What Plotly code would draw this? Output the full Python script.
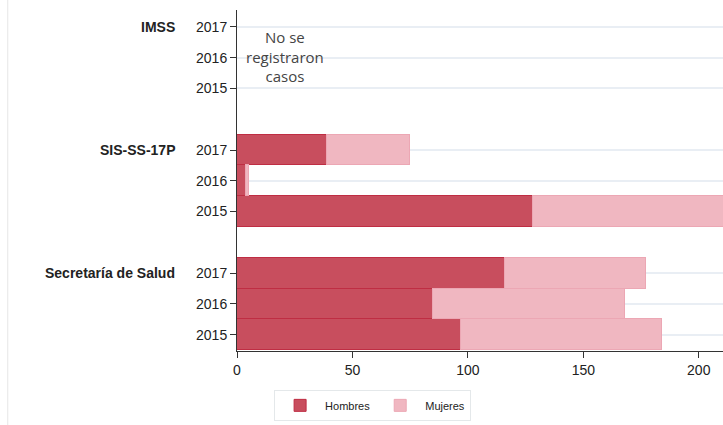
import plotly.graph_objects as go

# institutions / years, bottom-to-top slot positions on the y axis
institutions = ["Secretaría de Salud", "SIS-SS-17P", "IMSS"]
years = ["2015", "2016", "2017"]

# cases by sex (IMSS: none registered)
hombres = {
    "Secretaría de Salud": [97, 85, 116],
    "SIS-SS-17P": [128, 4, 39],
    "IMSS": [0, 0, 0],
}
mujeres = {
    "Secretaría de Salud": [87, 83, 61],
    "SIS-SS-17P": [112, 1, 36],
    "IMSS": [0, 0, 0],
}

# y slot of each bar: 3 years per group + one blank slot between groups
ypos, tick_txt, h_vals, m_vals = [], [], [], []
for g, inst in enumerate(institutions):
    for k, yr in enumerate(years):
        ypos.append(g * 4 + k)
        tick_txt.append(yr)
        h_vals.append(hombres[inst][k])
        m_vals.append(mujeres[inst][k])

fig = go.Figure()

fig.add_trace(go.Bar(
    y=ypos, x=h_vals, orientation="h", name="Hombres", width=1,
    marker=dict(color="#c84e5e", line=dict(color="#bf2d43", width=1)),
))
fig.add_trace(go.Bar(
    y=ypos, x=m_vals, orientation="h", name="Mujeres", width=1,
    marker=dict(color="#f0b7c1", line=dict(color="#eca7b4", width=1)),
))

# group labels
for g, inst in enumerate(institutions):
    fig.add_annotation(
        text="<b>" + inst + "</b>", xref="paper", yref="y",
        x=-0.1236, y=g * 4 + 2, xanchor="right", yanchor="middle",
        showarrow=False, font=dict(size=14, color="#222", family="Liberation Sans, Arial"),
    )

fig.add_annotation(
    text="No se<br>registraron<br>casos", xref="x", yref="y",
    x=20.6, y=9.05, xanchor="center", yanchor="middle", showarrow=False,
    font=dict(size=15, color="#444", family="Open Sans"),
)

# faint frame line on the left
fig.add_shape(type="line", xref="paper", yref="paper",
              x0=-0.4717, x1=-0.4717, y0=-0.25, y1=1.06,
              line=dict(color="#e6e6e6", width=1))

fig.update_layout(
    width=723, height=425,
    margin=dict(l=237, r=0, t=10, b=74),
    barmode="stack",
    plot_bgcolor="white", paper_bgcolor="white",
    font=dict(family="Liberation Sans, Arial", size=14, color="#222"),
    showlegend=True,
    legend=dict(
        orientation="h", x=0.279, xanchor="center", y=-0.114, yanchor="top",
        bordercolor="#e4e8ea", borderwidth=1, font=dict(size=11),
        itemwidth=40, traceorder="normal",
    ),
    bargap=0,
)

fig.update_xaxes(
    range=[0, 210.5], showgrid=False, zeroline=False,
    showline=True, linecolor="#333", linewidth=1,
    ticks="outside", ticklen=6, tickcolor="#333",
    tickvals=[0, 50, 100, 150, 200], tickfont=dict(size=14),
)
fig.update_yaxes(
    range=[-0.53, 10.55], zeroline=False,
    showgrid=True, gridcolor="#e9eef4", gridwidth=2,
    showline=True, linecolor="#333", linewidth=1,
    ticks="outside", ticklen=6, tickcolor="#333",
    tickvals=ypos, ticktext=tick_txt, tickfont=dict(size=14),
)

fig.write_html(
    "out.html",
    config={"displayModeBar": False},
    post_script="document.body.style.margin='0';document.body.style.overflow='hidden';",
)
